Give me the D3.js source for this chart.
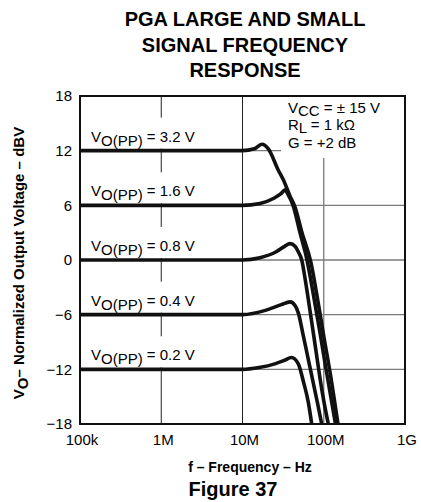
<!doctype html>
<html>
  <head>
    <meta charset="utf-8">
    <script src="https://cdn.jsdelivr.net/npm/d3@7"></script>
    <style>
      body { margin: 0; background: #fff; }
      svg text { font-family: "Liberation Sans", Arial, Helvetica, sans-serif; fill: #000; }
    </style>
  </head>
  <body>
    <svg id="chart" width="421" height="502"></svg>
    <script>
      // data (frequency in MHz, output in dBV)
      var freq32 = [0.1, 1, 10, 14, 17.3, 20.8, 27.6, 31.8, 38.5, 44.3, 54, 69.6, 84.3, 100.7, 119.4, 149.7];
      var gain32 = [12, 12, 12, 12.2, 12.7, 12.2, 9.85, 8.8, 7.0, 5.8, 3.0, -0.3, -4.4, -8.5, -12.3, -18];

      var freq16 = [0.1, 1, 10, 16.4, 24, 30, 33.4, 36.3, 41.9, 51, 62.2, 76.6, 90, 103.6, 119.4, 139.6];
      var gain16 = [6, 6, 6, 6.2, 6.75, 7.3, 7.7, 7.2, 6.0, 3.0, 0, -4.4, -8, -11.3, -14.5, -18];

      var freq08 = [0.1, 1, 10, 16.4, 26, 33, 38.5, 44.3, 48.6, 53.6, 58.8, 64.5, 71.6, 80.3, 90, 100.7, 113.8];
      var gain08 = [0, 0, 0, 0.24, 0.9, 1.5, 1.8, 1.5, 0.9, 0, -2, -4.3, -7, -10, -13, -15.6, -18];

      var freq04 = [0.1, 1, 10, 19.6, 30, 38.5, 44.3, 48.6, 56, 64.5, 74.3, 84.2, 94.4];
      var gain04 = [-6, -6, -6, -5.5, -4.9, -4.6, -5.0, -5.8, -8.3, -10.9, -13.5, -15.8, -18];

      var freq02 = [0.1, 1, 10, 16, 25, 33, 40, 48.6, 56, 64.5, 71.1];
      var gain02 = [-12, -12, -12, -11.8, -11.4, -11.0, -10.7, -11.4, -13.3, -15.6, -18];

      var seriesNames = ["3.2", "1.6", "0.8", "0.4", "0.2"];
      var seriesLevels = [12, 6, 0, -6, -12];

      var yTicks = [18, 12, 6, 0, -6, -12, -18];
      var xTicks = [1e5, 1e6, 1e7, 1e8, 1e9];
      var xTickLabels = ["100k", "1M", "10M", "100M", "1G"];

      var titleLines = ["PGA LARGE AND SMALL", "SIGNAL FREQUENCY", "RESPONSE"];

      // layout (plot box)
      var pLeft = 80, pRight = 405, pTop = 96, pBottom = 424;
      var svg = d3.select("#chart");

      var x = d3.scaleLog().domain([1e5, 1e9]).range([pLeft, pRight]);
      var y = d3.scaleLinear().domain([-18, 18]).range([pBottom, pTop]);

      // gridlines
      svg.append("g").selectAll("line").data([-12, -6, 0, 6, 12]).enter().append("line")
        .attr("x1", pLeft).attr("x2", pRight)
        .attr("y1", function(d){ return y(d); }).attr("y2", function(d){ return y(d); })
        .attr("stroke", "#7a7a7a").attr("stroke-width", 1.3);
      svg.append("g").selectAll("line").data([1e6, 1e7, 1e8]).enter().append("line")
        .attr("x1", function(d){ return x(d); }).attr("x2", function(d){ return x(d); })
        .attr("y1", pTop).attr("y2", pBottom)
        .attr("stroke", function(d){ return d == 1e8 ? "#7a7a7a" : "#222"; })
        .attr("stroke-width", function(d){ return d == 1e8 ? 1.3 : 1; });

      // white boxes behind the labels (they hide the gridlines)
      svg.append("g").selectAll("rect").data(seriesLevels).enter().append("rect")
        .attr("x", 86).attr("width", 120)
        .attr("y", function(d){ return y(d) - 33; }).attr("height", 31)
        .attr("fill", "#fff");
      svg.append("rect").attr("x", 281).attr("y", pTop + 1).attr("width", pRight - 281 - 1).attr("height", 61)
        .attr("fill", "#fff");

      // curves
      var allFreq = [freq32, freq16, freq08, freq04, freq02];
      var allGain = [gain32, gain16, gain08, gain04, gain02];

      svg.append("clipPath").attr("id", "plotclip").append("rect")
        .attr("x", pLeft).attr("y", pTop).attr("width", pRight - pLeft).attr("height", pBottom - pTop);

      var line = d3.line()
        .x(function(d){ return x(d[0] * 1e6); })
        .y(function(d){ return y(d[1]); })
        .curve(d3.curveMonotoneX);

      svg.append("g").attr("clip-path", "url(#plotclip)")
        .selectAll("path").data(d3.range(5)).enter().append("path")
        .attr("d", function(i){ return line(d3.zip(allFreq[i], allGain[i])); })
        .attr("fill", "none").attr("stroke", "#111").attr("stroke-width", 3.6)
        .attr("stroke-linejoin", "round").attr("stroke-linecap", "butt");

      // frame
      svg.append("rect").attr("x", pLeft).attr("y", pTop).attr("width", pRight - pLeft).attr("height", pBottom - pTop)
        .attr("fill", "none").attr("stroke", "#111").attr("stroke-width", 2);

      // series labels
      seriesNames.forEach(function(name, i){
        var t = svg.append("text").attr("x", 91).attr("y", y(seriesLevels[i]) - 9).attr("font-size", "15px");
        t.append("tspan").text("V");
        t.append("tspan").attr("dy", 4).text("O(PP)");
        t.append("tspan").attr("dy", -4).text(" = " + name + " V");
      });

      // conditions
      var c1 = svg.append("text").attr("x", 288).attr("y", 113).attr("font-size", "15px");
      c1.append("tspan").text("V");
      c1.append("tspan").attr("dy", 3).text("CC");
      c1.append("tspan").attr("dy", -3).text(" = \u00b1 15 V");
      var c2 = svg.append("text").attr("x", 288).attr("y", 130).attr("font-size", "15px");
      c2.append("tspan").text("R");
      c2.append("tspan").attr("dy", 3).text("L");
      c2.append("tspan").attr("dy", -3).text(" = 1 k\u03a9");
      svg.append("text").attr("x", 288).attr("y", 148).attr("font-size", "15px").text("G = +2 dB");

      // y tick labels
      svg.append("g").selectAll("text").data(yTicks).enter().append("text")
        .attr("x", 72).attr("y", function(d){ return y(d); }).attr("dy", "0.35em")
        .attr("text-anchor", "end").attr("font-size", "15px")
        .text(function(d){ return d < 0 ? "\u2212" + Math.abs(d) : d; });

      // x tick labels
      svg.append("g").selectAll("text").data(xTicks).enter().append("text")
        .attr("x", function(d){ return x(d) + 2; }).attr("y", 445)
        .attr("text-anchor", "middle").attr("font-size", "15px")
        .text(function(d, i){ return xTickLabels[i]; });

      // axis titles
      svg.append("text").attr("x", 250).attr("y", 472).attr("text-anchor", "middle")
        .attr("font-size", "14px").attr("font-weight", "bold").text("f \u2013 Frequency \u2013 Hz");

      var yl = svg.append("text").attr("transform", "translate(24,263) rotate(-90)")
        .attr("text-anchor", "middle").attr("font-size", "15px").attr("font-weight", "bold");
      yl.append("tspan").text("V");
      yl.append("tspan").attr("dy", 4).text("O");
      yl.append("tspan").attr("dy", -4).text("\u2013 Normalized Output Voltage \u2013 dBV");

      // title
      svg.append("g").selectAll("text").data(titleLines).enter().append("text")
        .attr("x", 245).attr("y", function(d, i){ return 26 + i * 25.5; })
        .attr("text-anchor", "middle").attr("font-size", "20px").attr("font-weight", "bold")
        .text(function(d){ return d; });

      svg.append("text").attr("x", 233).attr("y", 496).attr("text-anchor", "middle")
        .attr("font-size", "20px").attr("font-weight", "bold").text("Figure 37");
    </script>
  </body>
</html>
